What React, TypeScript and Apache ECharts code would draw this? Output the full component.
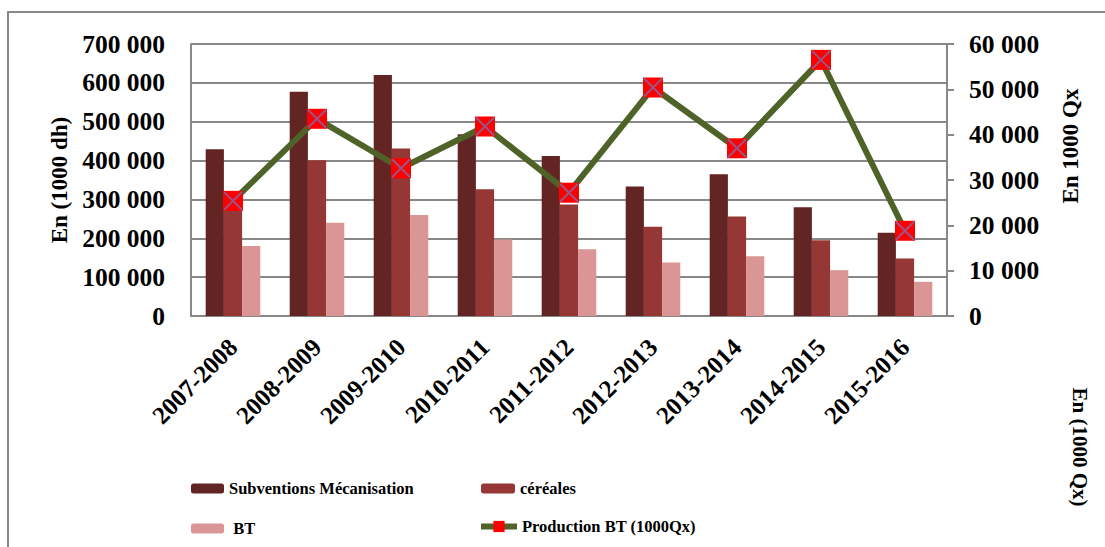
import React, { useEffect, useRef } from "react";
import * as echarts from "echarts";

const categories = ["2007-2008", "2008-2009", "2009-2010", "2010-2011", "2011-2012", "2012-2013", "2013-2014", "2014-2015", "2015-2016"];
const subventions = [429000, 577000, 620000, 468000, 412000, 333000, 365000, 280000, 214000];
const cereales = [295000, 401000, 431000, 326000, 287000, 230000, 256000, 195000, 148000];
const bt = [180000, 240000, 260000, 197000, 172000, 138000, 154000, 118000, 88000];
const production = [25400, 43500, 32600, 41800, 27200, 50400, 37000, 56500, 18800];

const leftTicks = { min: 0, max: 700000, interval: 100000 };
const rightTicks = { min: 0, max: 60000, interval: 10000 };

const FONT = "'Liberation Serif', 'Times New Roman', serif";
const fmt = (v: number) => String(v).replace(/\B(?=(\d{3})+(?!\d))/g, " ");

export default function App() {
  const ref = useRef<HTMLDivElement>(null);
  useEffect(() => {
    if (!ref.current) return;
    const chart = echarts.init(ref.current, undefined, { renderer: "svg" });
    const legendText = { fontFamily: FONT, fontWeight: "bold", fontSize: 16.5, color: "#000" };
    chart.setOption({
      animation: false,
      backgroundColor: "#fff",
      grid: { left: 191, right: 158, top: 44, bottom: 231, containLabel: false },
      legend: [
        { data: ["Subventions Mécanisation"], left: 191, top: 480, padding: 0, itemWidth: 33, itemHeight: 10, textStyle: legendText },
        { data: ["céréales"], left: 481, top: 480, padding: 0, itemWidth: 34, itemHeight: 10, textStyle: legendText },
        { data: [" BT"], left: 191, top: 520, padding: 0, itemWidth: 33, itemHeight: 10, textStyle: legendText },
        { data: ["Production BT (1000Qx)"], left: 478, top: 518, padding: 0, itemWidth: 36, itemHeight: 14, textStyle: legendText, lineStyle: { width: 6, color: "#4F6228" } },
      ],
      xAxis: {
        type: "category",
        data: categories,
        axisLine: { lineStyle: { color: "#888", width: 2 } },
        axisTick: { show: false },
        axisLabel: { rotate: 45, margin: 27, fontFamily: FONT, fontWeight: "bold", fontSize: 25, color: "#000", interval: 0 },
      },
      yAxis: [
        {
          type: "value",
          ...leftTicks,
          axisLine: { show: true, lineStyle: { color: "#888", width: 2 } },
          axisTick: { show: false },
          splitLine: { lineStyle: { color: "#888", width: 2 } },
          axisLabel: { margin: 26, formatter: fmt, fontFamily: FONT, fontWeight: "bold", fontSize: 25.5, color: "#000" },
        },
        {
          type: "value",
          position: "right",
          ...rightTicks,
          axisLine: { show: true, lineStyle: { color: "#888", width: 2 } },
          axisTick: { show: true, length: 7, lineStyle: { color: "#888", width: 2 } },
          splitLine: { show: false },
          axisLabel: { margin: 22, formatter: fmt, fontFamily: FONT, fontWeight: "bold", fontSize: 25.5, color: "#000" },
        },
      ],
      series: [
        { name: "Subventions Mécanisation", type: "bar", data: subventions, barGap: "0%", barCategoryGap: "35%", itemStyle: { color: "#632523" } },
        { name: "céréales", type: "bar", data: cereales, itemStyle: { color: "#953735" } },
        { name: " BT", type: "bar", data: bt, itemStyle: { color: "#D99694" } },
        {
          name: "Production BT (1000Qx)",
          type: "line",
          yAxisIndex: 1,
          data: production,
          symbol: "rect",
          symbolSize: 20,
          lineStyle: { color: "#4F6228", width: 6 },
          itemStyle: { color: "#FF0000" },
          z: 5,
        },
        {
          name: "marks",
          type: "scatter",
          yAxisIndex: 1,
          data: production,
          symbol: "path://M0,0L10,10M10,0L0,10",
          symbolSize: 18,
          itemStyle: { color: "none", borderColor: "#7F6AA8", borderWidth: 2 },
          z: 6,
          silent: true,
        },
      ],
      graphic: [
        { type: "rect", shape: { x: 8, y: 12, width: 1300, height: 800 }, style: { fill: "none", stroke: "#888", lineWidth: 2 }, silent: true },
        { type: "text", x: 59, y: 180, rotation: Math.PI / 2, style: { text: "En (1000 dh)", fontFamily: FONT, fontWeight: "bold", fontSize: 23, fill: "#000", align: "center", verticalAlign: "middle" } },
        { type: "text", x: 1070, y: 146, rotation: Math.PI / 2, style: { text: "En 1000 Qx", fontFamily: FONT, fontWeight: "bold", fontSize: 23, fill: "#000", align: "center", verticalAlign: "middle" } },
        { type: "text", x: 1080, y: 447, rotation: -Math.PI / 2, style: { text: "En (1000 Qx)", fontFamily: FONT, fontWeight: "bold", fontSize: 21, fill: "#000", align: "center", verticalAlign: "middle" } },
      ],
    });
    return () => chart.dispose();
  }, []);
  return <div ref={ref} style={{ position: "fixed", left: 0, top: 0, width: 1105, height: 547 }} />;
}
